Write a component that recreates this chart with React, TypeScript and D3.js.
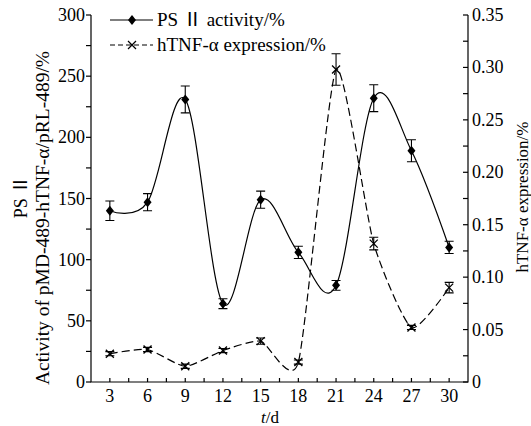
import React from "react";
import * as d3 from "d3";

const days = [3, 6, 9, 12, 15, 18, 21, 24, 27, 30];
const psValues = [140, 147, 231, 64, 149, 106, 79, 232, 189, 110];
const psErrors = [8, 7, 11, 4, 7, 5, 4, 11, 9, 5];
const tnfValues = [0.027, 0.031, 0.015, 0.03, 0.039, 0.019, 0.298, 0.132, 0.052, 0.09];
const tnfErrors = [0.002, 0.002, 0.002, 0.002, 0.003, 0.002, 0.015, 0.006, 0.002, 0.005];
const leftTicks = [0, 50, 100, 150, 200, 250, 300];
const leftMinor = [25, 75, 125, 175, 225, 275];
const rightTicks = [0, 0.05, 0.1, 0.15, 0.2, 0.25, 0.3, 0.35];
const rightMinor = [0.025, 0.075, 0.125, 0.175, 0.225, 0.275, 0.325];
const xMinor = [4.5, 7.5, 10.5, 13.5, 16.5, 19.5, 22.5, 25.5, 28.5];
const legendLabels = ["activity/%", "hTNF-α expression/%"];

const W = 531, H = 426;
const L = 91, R = 468, T = 15, B = 382;
const FONT = "Liberation Serif, serif";
const CJK = "Noto Sans CJK SC";

export default function App() {
  const x = d3.scaleLinear().domain([1.5, 31.5]).range([L, R]);
  const yL = d3.scaleLinear().domain([0, 300]).range([B, T]);
  const yR = d3.scaleLinear().domain([0, 0.35]).range([B, T]);
  const psLine = d3.line<number>().x((_, i) => x(days[i])).y((d) => yL(d)).curve(d3.curveCardinal.tension(0));
  const tnfLine = d3.line<number>().x((_, i) => x(days[i])).y((d) => yR(d)).curve(d3.curveCardinal.tension(0.4));
  const diamond = (cx: number, cy: number) => `M${cx},${cy - 5}L${cx + 4},${cy}L${cx},${cy + 5}L${cx - 4},${cy}Z`;
  const cross = (cx: number, cy: number) => `M${cx - 4},${cy - 4}L${cx + 4},${cy + 4}M${cx - 4},${cy + 4}L${cx + 4},${cy - 4}`;
  const errBar = (cx: number, y1: number, y2: number) =>
    `M${cx},${y1}L${cx},${y2}M${cx - 4.5},${y1}L${cx + 4.5},${y1}M${cx - 4.5},${y2}L${cx + 4.5},${y2}`;
  const fmtR = (d: number) => (d === 0 ? "0" : d3.format(".2f")(d));
  const txt = { fontFamily: FONT } as React.CSSProperties;

  return (
    <svg width={W} height={H} style={{ position: "absolute", left: 0, top: 0, background: "#fff", fontFamily: FONT }}>
      <rect width={W} height={H} fill="#fff" />
      {/* axes */}
      <g stroke="#000" strokeWidth={1.2} fill="none">
        <path d={`M${L},${T}L${L},${B}L${R},${B}L${R},${T}`} />
        {leftTicks.concat(leftMinor).map((t) => (
          <line key={"lt" + t} x1={L - 5} x2={L} y1={yL(t)} y2={yL(t)} />
        ))}
        {rightTicks.concat(rightMinor).map((t) => (
          <line key={"rt" + t} x1={R - 5} x2={R} y1={yR(t)} y2={yR(t)} />
        ))}
        {days.concat(xMinor).map((t) => (
          <line key={"xt" + t} x1={x(t)} x2={x(t)} y1={B} y2={B - 4} />
        ))}
      </g>
      <g fontSize={18} fill="#000" style={txt}>
        {leftTicks.map((t) => (
          <text key={"ll" + t} x={L - 6} y={yL(t) + 6} textAnchor="end">{t}</text>
        ))}
        {rightTicks.map((t) => (
          <text key={"rl" + t} x={R + 4} y={yR(t) + 6} textAnchor="start">{fmtR(t)}</text>
        ))}
        {days.map((t) => (
          <text key={"xl" + t} x={x(t)} y={B + 20} textAnchor="middle">{t}</text>
        ))}
      </g>
      {/* axis titles */}
      <g fill="#000" style={txt}>
        <text transform={`translate(27,197) rotate(-90)`} textAnchor="middle" fontSize={18}>
          PS <tspan fontFamily={CJK} style={{ fontFamily: CJK }}>Ⅱ</tspan>
        </text>
        <text transform={`translate(49,218) rotate(-90)`} textAnchor="middle" fontSize={19.5}>
          Activity of pMD-489-hTNF-α/pRL-489/%
        </text>
        <text transform={`translate(528,197) rotate(-90)`} textAnchor="middle" fontSize={17}>
          hTNF-α expression/%
        </text>
        <text x={270} y={423} textAnchor="middle" fontSize={17}>
          <tspan fontStyle="italic">t</tspan>/d
        </text>
      </g>
      {/* series */}
      <path d={psLine(psValues) || ""} fill="none" stroke="#000" strokeWidth={1.2} />
      <path d={tnfLine(tnfValues) || ""} fill="none" stroke="#000" strokeWidth={1.2} strokeDasharray="8,4" />
      <g stroke="#000" strokeWidth={1.1} fill="none">
        {psValues.map((v, i) => (
          <path key={"pe" + i} d={errBar(x(days[i]), yL(v + psErrors[i]), yL(v - psErrors[i]))} />
        ))}
        {tnfValues.map((v, i) => (
          <path key={"te" + i} d={errBar(x(days[i]), yR(v + tnfErrors[i]), yR(v - tnfErrors[i]))} />
        ))}
      </g>
      {psValues.map((v, i) => (
        <path key={"pm" + i} d={diamond(x(days[i]), yL(v))} fill="#000" />
      ))}
      {tnfValues.map((v, i) => (
        <path key={"tm" + i} d={cross(x(days[i]), yR(v))} stroke="#000" strokeWidth={1.3} fill="none" />
      ))}
      {/* legend */}
      <g style={txt}>
        <line x1={110} x2={153} y1={20} y2={20} stroke="#000" strokeWidth={1.2} />
        <path d={diamond(132, 20)} fill="#000" />
        <line x1={110} x2={153} y1={45} y2={45} stroke="#000" strokeWidth={1.2} strokeDasharray="5,3" />
        <path d={cross(132, 45)} stroke="#000" strokeWidth={1.2} fill="#fff" />
        <text x={157} y={26} fontSize={19}>
          PS <tspan fontFamily={CJK} style={{ fontFamily: CJK }}>Ⅱ</tspan> {legendLabels[0]}
        </text>
        <text x={157} y={51} fontSize={19}>{legendLabels[1]}</text>
      </g>
    </svg>
  );
}
